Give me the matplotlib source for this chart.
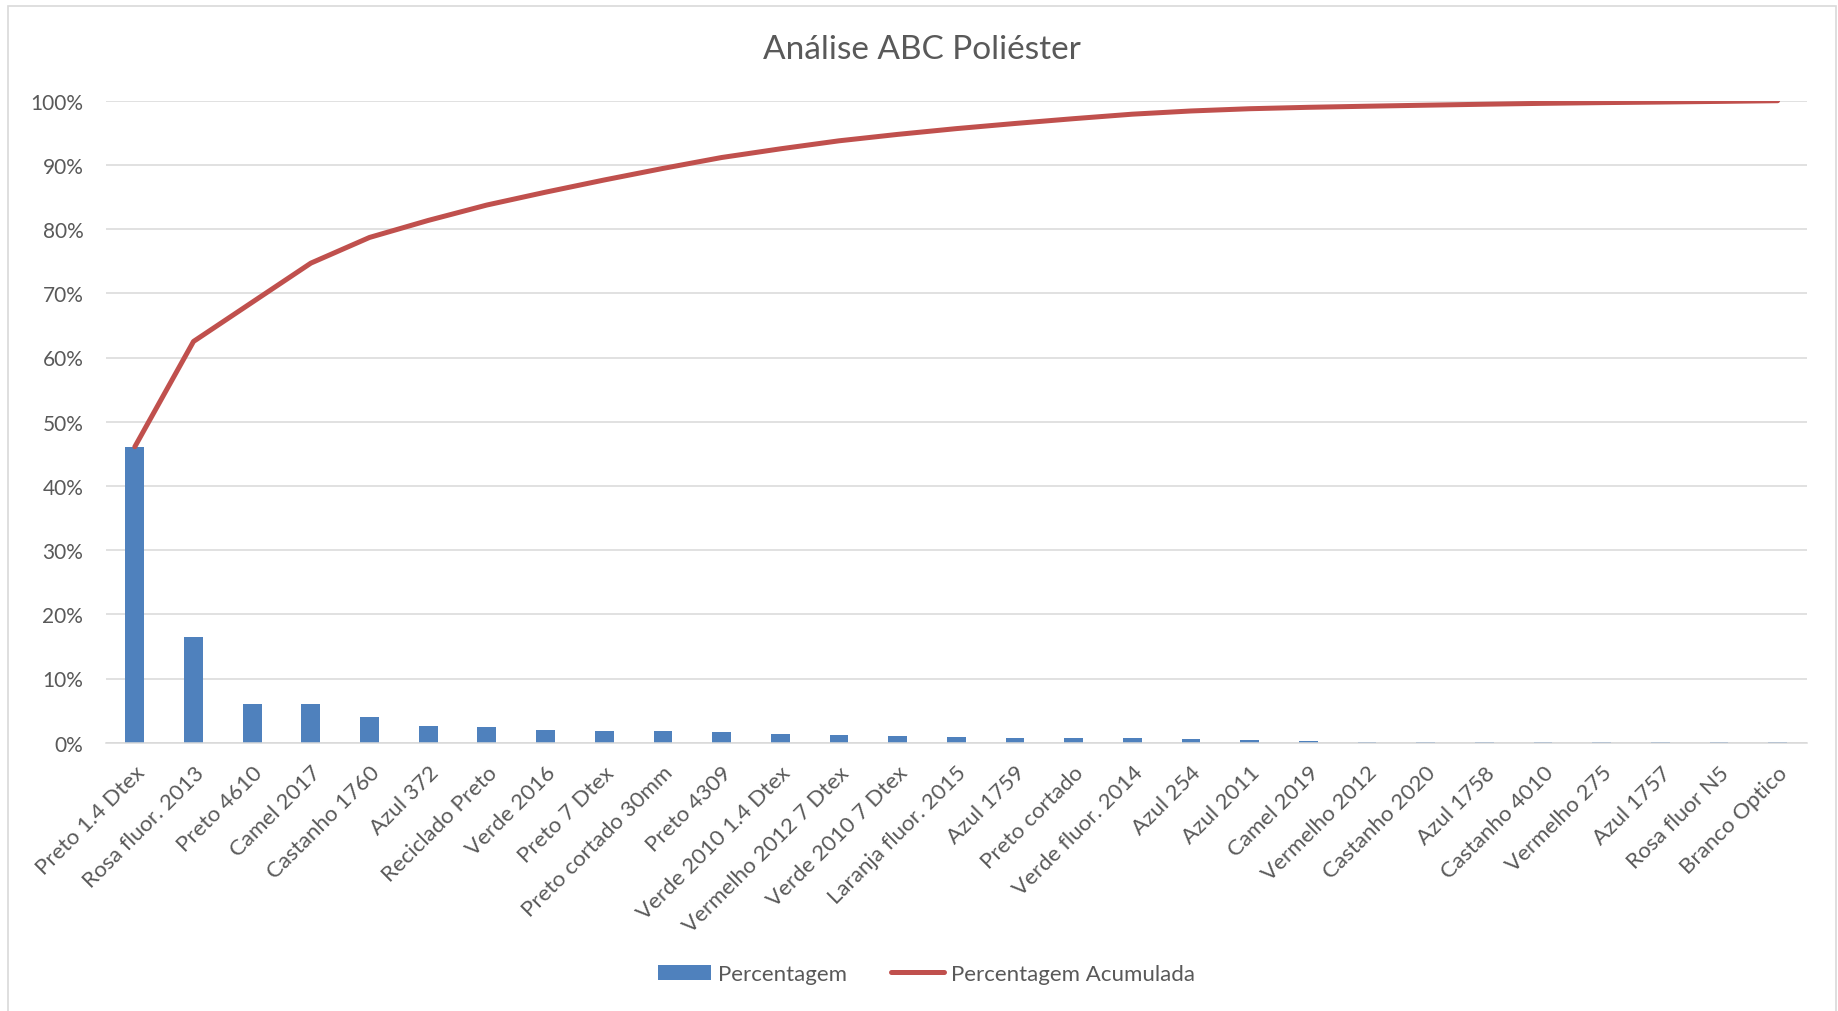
import numpy as np
import matplotlib.pyplot as plt
from matplotlib.patches import Rectangle
from matplotlib.ticker import PercentFormatter

plt.rcParams['font.family'] = ['Lato', 'DejaVu Sans']

# categories (sorted as in the chart)
produtos = ['Preto 1.4 Dtex', 'Rosa fluor. 2013', 'Preto 4610', 'Camel 2017',
            'Castanho 1760', 'Azul 372', 'Reciclado Preto', 'Verde 2016',
            'Preto 7 Dtex', 'Preto cortado 30mm', 'Preto 4309',
            'Verde 2010 1.4 Dtex', 'Vermelho 2012 7 Dtex', 'Verde 2010 7 Dtex',
            'Laranja fluor. 2015', 'Azul 1759', 'Preto cortado',
            'Verde fluor. 2014', 'Azul 254', 'Azul 2011', 'Camel 2019',
            'Vermelho 2012', 'Castanho 2020', 'Azul 1758', 'Castanho 4010',
            'Vermelho 275', 'Azul 1757', 'Rosa fluor N5', 'Branco Optico']

# percentagem (% of total)
percentagem = [46.1, 16.4, 6.1, 6.1, 4.0, 2.65, 2.4, 2.0, 1.9, 1.8, 1.7,
               1.35, 1.25, 1.0, 0.9, 0.8, 0.75, 0.7, 0.5, 0.35, 0.22,
               0.17, 0.16, 0.15, 0.14, 0.11, 0.09, 0.1, 0.11]

# percentagem acumulada
acumulada = [46.1, 62.5, 68.6, 74.7, 78.7, 81.35, 83.75, 85.75, 87.65,
             89.45, 91.15, 92.5, 93.75, 94.75, 95.65, 96.45, 97.2, 97.9,
             98.4, 98.75, 98.97, 99.14, 99.3, 99.45, 99.59, 99.7, 99.79,
             99.89, 100.0]

fig = plt.figure(figsize=(18.38, 10.12), dpi=100)
ax = fig.add_axes([105.5/1838, 268.3/1012, 1701.5/1838, 642/1012])

x = np.arange(len(produtos))
bars = ax.bar(x, np.array(percentagem)/100, width=0.32, color='#4F81BD',
              label='Percentagem', zorder=2)
line, = ax.plot(x, np.array(acumulada)/100, color='#C0504D', lw=3.6,
                solid_capstyle='round', label='Percentagem Acumulada', zorder=3)

ax.set_xlim(-0.5, len(produtos) - 0.5)
ax.set_ylim(0, 1)
ax.set_yticks(np.arange(0, 1.01, 0.1))
ax.yaxis.set_major_formatter(PercentFormatter(1.0, decimals=0))
ax.grid(axis='y', color='#D9D9D9', lw=1.1, zorder=0)
ax.set_axisbelow(True)
for s in ['top', 'right', 'left']:
    ax.spines[s].set_visible(False)
ax.spines['bottom'].set_color('#D9D9D9')
ax.spines['bottom'].set_linewidth(1.1)

ax.set_xticks(x)
ax.set_xticklabels(produtos, rotation=45, ha='right', rotation_mode='anchor')
ax.tick_params(axis='x', length=0, pad=14, labelsize=16, labelcolor='#595959')
ax.tick_params(axis='y', length=0, pad=16, labelsize=15, labelcolor='#595959')

fig.text(0.5014, 0.951, 'Análise ABC Poliéster', ha='center', va='center',
         fontsize=24, color='#595959')

fig.legend([bars, line], ['Percentagem', 'Percentagem Acumulada'],
           loc='center', bbox_to_anchor=(0.504, 0.0365), ncol=2,
           frameon=False, fontsize=16, labelcolor='#595959',
           handlelength=2.4, handletextpad=0.3, columnspacing=2.0)

fig.patches.append(Rectangle((8/1838, -0.02), 1828/1838, 1.02 - 7/1012,
                             transform=fig.transFigure, fill=False,
                             edgecolor='#D9D9D9', lw=1.2))

plt.savefig('out.png', dpi=100)
